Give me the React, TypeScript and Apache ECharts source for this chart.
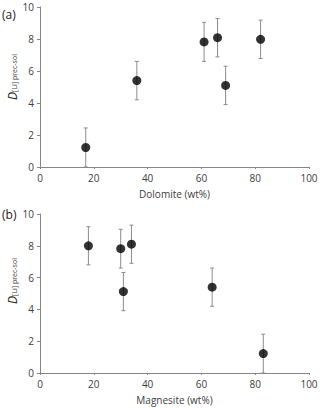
import React, { useEffect, useRef } from "react";
import * as echarts from "echarts";

const dolomiteX = [17, 36, 61, 66, 69, 82];
const dolomiteY = [1.22, 5.4, 7.82, 8.08, 5.1, 7.98];
const dolomiteErr = [1.22, 1.2, 1.22, 1.2, 1.2, 1.2];

const magnesiteX = [18, 30, 31, 34, 64, 83];
const magnesiteY = [8.0, 7.82, 5.12, 8.1, 5.4, 1.22];
const magnesiteErr = [1.2, 1.22, 1.2, 1.2, 1.2, 1.22];

const xTicks = [0, 20, 40, 60, 80, 100];
const yTicks = [0, 2, 4, 6, 8, 10];

const FONT = "'Open Sans', 'Liberation Sans', sans-serif";

export default function App() {
  const ref = useRef<HTMLDivElement>(null);
  useEffect(() => {
    if (!ref.current) return;
    const chart = echarts.init(ref.current, null, { renderer: "svg" });
    const pts = (xs: number[], ys: number[]) => xs.map((x, i) => [x, ys[i]]);
    const errs = (xs: number[], ys: number[], es: number[]) =>
      xs.map((x, i) => [x, Math.max(0, ys[i] - es[i]), ys[i] + es[i]]);

    const errRender = (params: any, api: any) => {
      const x = api.value(0);
      const lo = api.coord([x, api.value(1)]);
      const hi = api.coord([x, api.value(2)]);
      const cw = 2;
      const style = { stroke: "#8c8c8c", lineWidth: 1 };
      return {
        type: "group",
        children: [
          { type: "line", shape: { x1: lo[0], y1: lo[1], x2: hi[0], y2: hi[1] }, style },
          { type: "line", shape: { x1: lo[0] - cw, y1: lo[1], x2: lo[0] + cw, y2: lo[1] }, style },
          { type: "line", shape: { x1: hi[0] - cw, y1: hi[1], x2: hi[0] + cw, y2: hi[1] }, style },
        ],
      };
    };

    const axisCommon = {
      axisLine: { show: true, lineStyle: { color: "#868686", width: 1 } },
      axisTick: { show: true, inside: false, length: 3, lineStyle: { color: "#868686" } },
      splitLine: { show: false },
      axisLabel: { color: "#404040", fontSize: 10, fontFamily: FONT },
    };

    const xAxis = (gi: number, name: string) => ({
      ...axisCommon,
      type: "value",
      gridIndex: gi,
      min: xTicks[0],
      max: xTicks[xTicks.length - 1],
      interval: 20,
      name,
      nameLocation: "middle",
      nameGap: 22,
      nameTextStyle: { color: "#404040", fontSize: 10, fontFamily: FONT },
      axisTick: { show: true, inside: false, length: 2, lineStyle: { color: "#868686" } },
      axisLabel: { ...axisCommon.axisLabel, margin: 6 },
    });
    const yAxis = (gi: number) => ({
      ...axisCommon,
      type: "value",
      gridIndex: gi,
      min: yTicks[0],
      max: yTicks[yTicks.length - 1],
      interval: 2,
      axisLabel: { ...axisCommon.axisLabel, margin: 6 },
    });

    const yName = (cx: number, cy: number) => ({
      type: "text",
      x: cx,
      y: cy,
      rotation: Math.PI / 2,
      style: {
        text: "{d|D}{s|[Li] prec-sol}",
        align: "center",
        verticalAlign: "middle",
        rich: {
          d: { fontSize: 12, fontStyle: "italic", fontFamily: FONT, fill: "#222", verticalAlign: "bottom" },
          s: { fontSize: 7, fontFamily: FONT, fill: "#404040", verticalAlign: "bottom" },
        },
      },
    });

    chart.setOption({
      animation: false,
      backgroundColor: "#ffffff",
      grid: [
        { left: 40, right: 11, top: 7, height: 160, containLabel: false, outerBoundsMode: "none" },
        { left: 40, right: 11, top: 214, height: 159, containLabel: false, outerBoundsMode: "none" },
      ],
      xAxis: [xAxis(0, "Dolomite (wt%)"), xAxis(1, "Magnesite (wt%)")],
      yAxis: [yAxis(0), yAxis(1)],
      graphic: [
        { type: "text", left: 2, top: 8, style: { text: "(a)", fontSize: 12, fontFamily: FONT, fill: "#222" } },
        { type: "text", left: 2, top: 208, style: { text: "(b)", fontSize: 12, fontFamily: FONT, fill: "#222" } },
        yName(12, 77),
        yName(12, 281),
      ],
      series: [
        {
          type: "custom",
          xAxisIndex: 0,
          yAxisIndex: 0,
          renderItem: errRender,
          data: errs(dolomiteX, dolomiteY, dolomiteErr),
          encode: { x: 0, y: [1, 2] },
          z: 1,
        },
        {
          type: "scatter",
          xAxisIndex: 0,
          yAxisIndex: 0,
          symbolSize: 9,
          itemStyle: { color: "#000" },
          data: pts(dolomiteX, dolomiteY),
          z: 2,
        },
        {
          type: "custom",
          xAxisIndex: 1,
          yAxisIndex: 1,
          renderItem: errRender,
          data: errs(magnesiteX, magnesiteY, magnesiteErr),
          encode: { x: 0, y: [1, 2] },
          z: 1,
        },
        {
          type: "scatter",
          xAxisIndex: 1,
          yAxisIndex: 1,
          symbolSize: 9,
          itemStyle: { color: "#000" },
          data: pts(magnesiteX, magnesiteY),
          z: 2,
        },
      ],
    });
    return () => chart.dispose();
  }, []);
  return <div ref={ref} style={{ width: 320, height: 408, position: "absolute", left: 0, top: 0 }} />;
}
